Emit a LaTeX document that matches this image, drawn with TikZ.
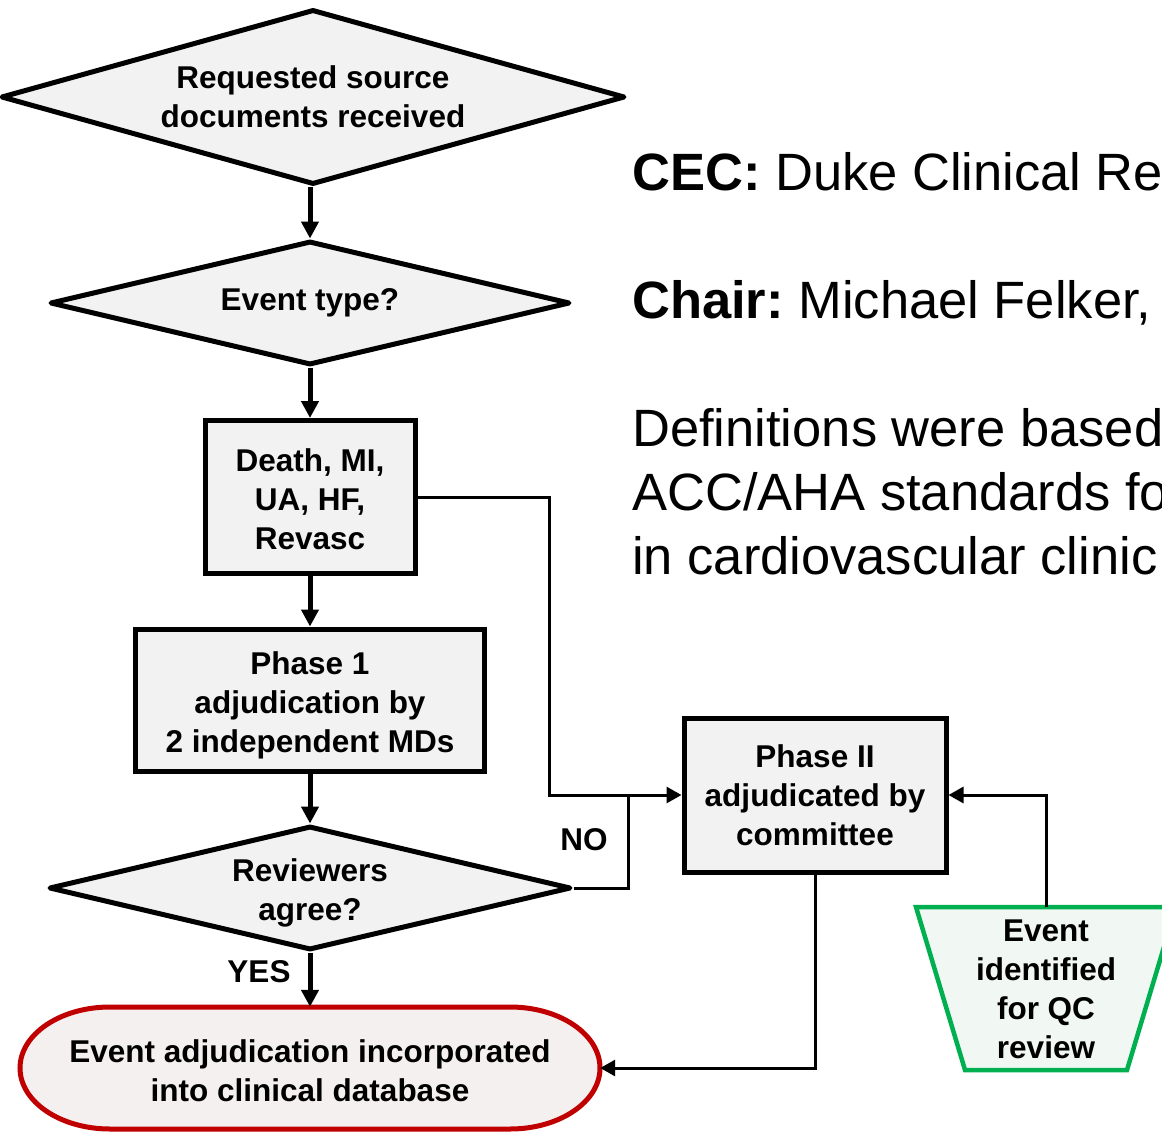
\documentclass[tikz,border=0pt]{standalone}
\usepackage{fontspec}
\setmainfont{Liberation Sans}
\usetikzlibrary{arrows.meta,shapes.geometric}
\definecolor{boxgray}{HTML}{F2F2F2}
\definecolor{termred}{HTML}{C00000}
\definecolor{termfill}{HTML}{F5F0F0}
\definecolor{qcgreen}{HTML}{00B050}
\definecolor{qcfill}{HTML}{F1F7F2}
\frenchspacing
% strut that lowers the text block inside a node
\newcommand{\lowerby}[1]{\rule{0pt}{#1}}
\tikzset{
  flowtext/.style={font=\fontsize{31.5}{39}\selectfont\bfseries, align=center, text=black},
  decision/.style={flowtext, diamond, draw=black, line width=5pt, line join=round, fill=boxgray, inner sep=0pt},
  process/.style={flowtext, rectangle, draw=black, line width=5pt, fill=boxgray, inner sep=0pt},
  mainflow/.style={line width=5pt, -{Triangle[length=17pt,width=17pt]}},
  sideflow/.style={line width=3pt},
  sidearrow/.style={line width=3pt, -{Triangle[length=15pt,width=16pt]}},
  label/.style={font=\fontsize{31.5}{39}\selectfont\bfseries, text=black, inner sep=0pt},
  notes/.style={font=\fontsize{52.5}{64}\selectfont, anchor=base west, inner sep=0pt, text=black}
}
\begin{document}
\begin{tikzpicture}[x=1pt,y=-1pt]
\useasboundingbox (0,0) rectangle (1162,1132);
\clip (0,0) rectangle (1162,1132);
\fill[white] (0,0) rectangle (1162,1132);

% main column
\node[decision, aspect=3.55, minimum width=624, minimum height=175] (src) at (313,97) {Requested source\\documents received};
\node[decision, aspect=4.2, minimum width=520, minimum height=124] (type) at (310,303) {Event type?};
\node[process, minimum width=210, minimum height=153] (death) at (310,497) {\lowerby{27pt}Death, MI,\\UA, HF,\\Revasc};
\node[process, minimum width=349, minimum height=142] (p1) at (310,700) {\lowerby{33pt}Phase 1\\adjudication by\\2 independent MDs};
\node[decision, aspect=4.2, minimum width=522, minimum height=124] (agree) at (310,888) {\lowerby{33pt}Reviewers\\agree?};

% terminal: database (outline drawn first, text node on top)
\draw[termred, line width=5pt, fill=termfill]
  (110,1007) -- (510,1007)
  arc[start angle=-90, end angle=90, x radius=90, y radius=61]
  -- (110,1129)
  arc[start angle=90, end angle=270, x radius=90, y radius=61] -- cycle;
\node[flowtext, minimum width=580, minimum height=122, inner sep=0pt] (db) at (310,1068) {\lowerby{29pt}Event adjudication incorporated\\into clinical database};

% committee review
\node[process, minimum width=262, minimum height=154] (p2) at (815,795) {Phase II\\adjudicated by\\committee};

% quality-control source
\draw[qcgreen, line width=4.5pt, fill=qcfill, line join=miter]
  (916,907) -- (1176,907) -- (1127,1070) -- (965,1070) -- cycle;
\node[flowtext] (qc) at (1046,989) {Event\\identified\\for QC\\review};
\coordinate (qctop) at (1046,907);

% connectors
\draw[mainflow] (src.south -| type.north) -- (type.north);
\draw[mainflow] (type.south) -- (death.north);
\draw[mainflow] (death.south) -- (p1.north);
\draw[mainflow] (p1.south) -- (agree.north);
\draw[mainflow] (agree.south) -- (db.north);

\coordinate (bypass) at (549,497);
\coordinate (nojoin) at (628,795);
\draw[sidearrow] (death.east) -- (bypass) |- (p2.west);
\draw[sideflow] (agree.east) -| (nojoin);
\draw[sidearrow] (p2.south) |- (db.east);
\draw[sidearrow] (qctop) |- (p2.east);

\node[label] (no) at (584,840) {NO};
\node[label] (yes) at (259,972) {YES};

% notes
\node[notes] (cec) at (632,190) {\textbf{CEC:} Duke Clinical Re};
\node[notes] (chair) at (632,318) {\textbf{Chair:} Michael Felker,};
\node[notes] (def1) at (632,446) {Definitions were based};
\node[notes] (def2) at (632,510) {ACC/AHA standards fo};
\node[notes] (def3) at (632,574) {in cardiovascular clinic};
\end{tikzpicture}
\end{document}
